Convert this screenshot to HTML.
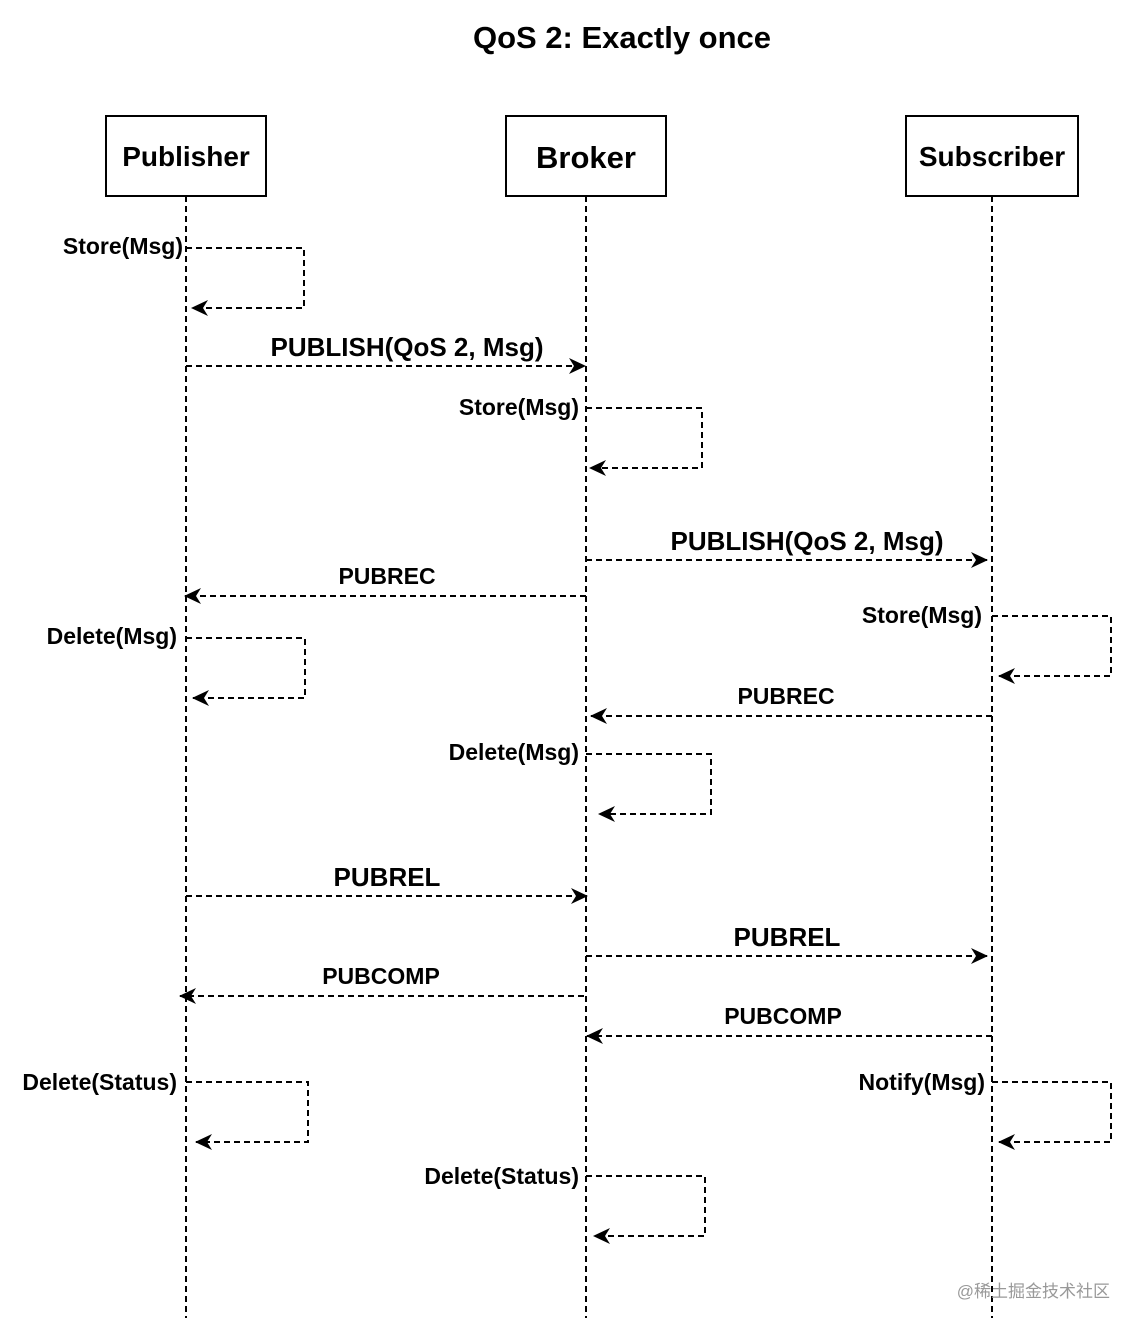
<!DOCTYPE html>
<html><head><meta charset="utf-8"><style>body{margin:0;background:#fff}svg{display:block}text{font-family:"Liberation Sans",Arial,sans-serif;font-weight:bold;fill:#000}</style></head><body>
<svg width="1145" height="1334" viewBox="0 0 1145 1334" xmlns="http://www.w3.org/2000/svg">
<defs><marker id="a" markerWidth="18" markerHeight="16" refX="16" refY="8" orient="auto" markerUnits="userSpaceOnUse"><path d="M0,0 L17,8 L0,16 L5,8 Z" fill="#000" stroke="none"/></marker></defs>
<text x="622" y="48" font-size="31" text-anchor="middle">QoS 2: Exactly once</text>
<g fill="#fff" stroke="#000" stroke-width="2">
<rect x="106" y="116" width="160" height="80"/><rect x="506" y="116" width="160" height="80"/><rect x="906" y="116" width="172" height="80"/></g>
<text x="186" y="166" font-size="28" text-anchor="middle">Publisher</text>
<text x="586" y="168" font-size="31" text-anchor="middle">Broker</text>
<text x="992" y="166" font-size="28" text-anchor="middle">Subscriber</text>
<g stroke="#000" stroke-width="2" stroke-dasharray="6,4" fill="none">
<line x1="186" y1="196" x2="186" y2="1318"/><line x1="586" y1="196" x2="586" y2="1318"/><line x1="992" y1="196" x2="992" y2="1318"/>
<path d="M186,248 H304 V308 H192" marker-end="url(#a)"/>
<path d="M586,408 H702 V468 H590" marker-end="url(#a)"/>
<path d="M186,638 H305 V698 H193" marker-end="url(#a)"/>
<path d="M992,616 H1111 V676 H999" marker-end="url(#a)"/>
<path d="M586,754 H711 V814 H599" marker-end="url(#a)"/>
<path d="M186,1082 H308 V1142 H196" marker-end="url(#a)"/>
<path d="M992,1082 H1111 V1142 H999" marker-end="url(#a)"/>
<path d="M586,1176 H705 V1236 H594" marker-end="url(#a)"/>
<line x1="186" y1="366" x2="585" y2="366" marker-end="url(#a)"/>
<line x1="586" y1="560" x2="987" y2="560" marker-end="url(#a)"/>
<line x1="586" y1="596" x2="185" y2="596" marker-end="url(#a)"/>
<line x1="992" y1="716" x2="591" y2="716" marker-end="url(#a)"/>
<line x1="186" y1="896" x2="587" y2="896" marker-end="url(#a)"/>
<line x1="586" y1="956" x2="987" y2="956" marker-end="url(#a)"/>
<line x1="584" y1="996" x2="180" y2="996" marker-end="url(#a)"/>
<line x1="992" y1="1036" x2="587" y2="1036" marker-end="url(#a)"/>
</g>
<g font-size="23" text-anchor="end">
<text x="183" y="254">Store(Msg)</text>
<text x="579" y="415">Store(Msg)</text>
<text x="177" y="644">Delete(Msg)</text>
<text x="982" y="623">Store(Msg)</text>
<text x="579" y="760">Delete(Msg)</text>
<text x="177" y="1090">Delete(Status)</text>
<text x="985" y="1090">Notify(Msg)</text>
<text x="579" y="1184">Delete(Status)</text>
</g>
<g font-size="26" text-anchor="middle">
<text x="407" y="356">PUBLISH(QoS 2, Msg)</text>
<text x="807" y="550">PUBLISH(QoS 2, Msg)</text>
<text x="387" y="886">PUBREL</text>
<text x="787" y="946">PUBREL</text>
</g>
<g font-size="23" text-anchor="middle">
<text x="387" y="584">PUBREC</text>
<text x="786" y="704">PUBREC</text>
<text x="381" y="984">PUBCOMP</text>
<text x="783" y="1024">PUBCOMP</text>
</g>
<text x="1110" y="1297" font-size="17" text-anchor="end" style="font-weight:normal;fill:#999;font-family:'Liberation Sans','Noto Sans CJK SC',sans-serif">@稀土掘金技术社区</text>
</svg>
</body></html>
